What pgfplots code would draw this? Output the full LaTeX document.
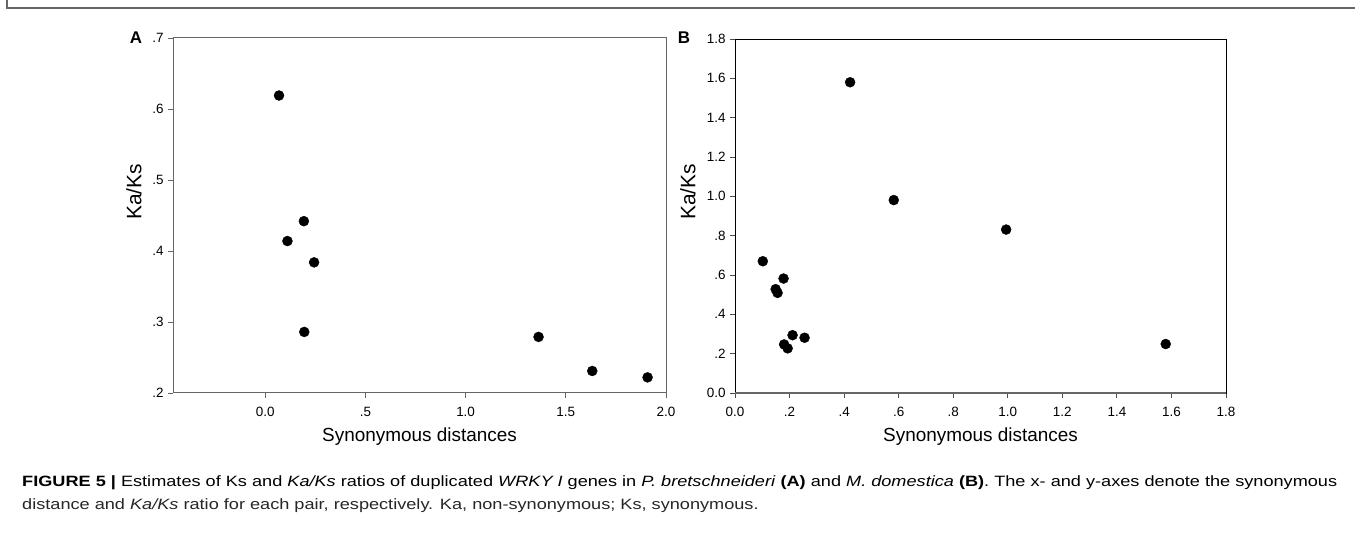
\documentclass[border=0pt]{standalone}
\usepackage{pgfplots}
\pgfplotsset{compat=1.18}
\usepackage{graphicx}
\usepackage{fontspec}
\setmainfont{Liberation Sans}
\newsavebox\capA
\pgfplotsset{
  myax/.style={
    scale only axis,
    tick align=outside,
    xtick pos=left, ytick pos=left,
    major tick length=5bp,
    xticklabel style={font=\fontsize{13.5}{15}\selectfont, yshift=-6bp},
    yticklabel style={font=\fontsize{13.5}{15}\selectfont, xshift=-1bp},
    clip=false,
  }
}
\begin{document}
\sbox\capA{\fontsize{15}{18}\selectfont\textbf{FIGURE 5 |} Estimates of Ks and \textit{Ka/Ks} ratios of duplicated \textit{WRKY I} genes in \textit{P. bretschneideri} \textbf{(A)} and \textit{M. domestica} \textbf{(B)}. The x- and y-axes denote the synonymous}%
\pgfmathsetmacro\sx{1315bp/\wd\capA}%
\begin{tikzpicture}
\path[use as bounding box] (0bp,0bp) rectangle (1355bp,538bp);
% frame
\draw[black!60, line width=1.6bp] (7bp,538bp) -- (7bp,530bp) -- (1355bp,530bp);
% Panel A
\begin{axis}[myax,
  at={(173bp,145bp)}, anchor=south west,
  width=493bp, height=355bp,
  xmin=-0.46, xmax=2.0, ymin=0.2, ymax=0.7,
  axis line style={black!60, line width=1bp},
  tick style={black!60, line width=0.9bp},
  xtick={0,0.5,1,1.5,2}, xticklabels={0.0,.5,1.0,1.5,2.0},
  ytick={0.2,0.3,0.4,0.5,0.6,0.7}, yticklabels={.2,.3,.4,.5,.6,.7},
]
\addplot[only marks, mark=*, mark size=5bp, black] coordinates {
(0.069,0.619) (0.193,0.442) (0.111,0.414) (0.244,0.384) (0.195,0.286)
(1.364,0.279) (1.632,0.231) (1.908,0.222)
};
\end{axis}
% Panel B
\begin{axis}[myax,
  at={(735bp,145bp)}, anchor=south west,
  width=491bp, height=354bp,
  xmin=0, xmax=1.8, ymin=0, ymax=1.8,
  axis line style={black, line width=0.9bp},
  tick style={black!70, line width=0.9bp},
  xtick={0,0.2,0.4,0.6,0.8,1.0,1.2,1.4,1.6,1.8},
  xticklabels={0.0,.2,.4,.6,.8,1.0,1.2,1.4,1.6,1.8},
  ytick={0,0.2,0.4,0.6,0.8,1.0,1.2,1.4,1.6,1.8},
  yticklabels={0.0,.2,.4,.6,.8,1.0,1.2,1.4,1.6,1.8},
]
\addplot[only marks, mark=*, mark size=5bp, black] coordinates {
(0.422,1.580) (0.582,0.981) (0.994,0.831) (0.102,0.670) (0.178,0.582)
(0.149,0.528) (0.156,0.509) (0.211,0.294) (0.255,0.281) (0.180,0.247)
(0.193,0.227) (1.579,0.249)
};
\draw[black!60, line width=1.6bp] (rel axis cs:0,0) -- (rel axis cs:1,0);
\end{axis}
% panel letters and axis labels
\node[font=\fontsize{17}{20}\selectfont\bfseries] at (136bp,500bp) {A};
\node[font=\fontsize{17}{20}\selectfont\bfseries] at (684bp,500bp) {B};
\node[rotate=90, font=\fontsize{21}{24}\selectfont] at (134bp,346bp) {Ka/Ks};
\node[rotate=90, font=\fontsize{21}{24}\selectfont] at (688bp,346bp) {Ka/Ks};
\node[font=\fontsize{19}{22}\selectfont] at (419.5bp,101bp) {Synonymous distances};
\node[font=\fontsize{19}{22}\selectfont] at (980.5bp,101bp) {Synonymous distances};
% caption
\node[anchor=west, inner sep=0pt, text=black!85] at (22bp,55bp) {\scalebox{\sx}[1]{\usebox\capA}};
\node[anchor=west, inner sep=0pt, text=black!85] at (22bp,32bp) {\scalebox{\sx}[1]{\fontsize{15}{18}\selectfont distance and \textit{Ka/Ks} ratio for each pair, respectively. Ka, non-synonymous; Ks, synonymous.}};
\end{tikzpicture}
\end{document}
